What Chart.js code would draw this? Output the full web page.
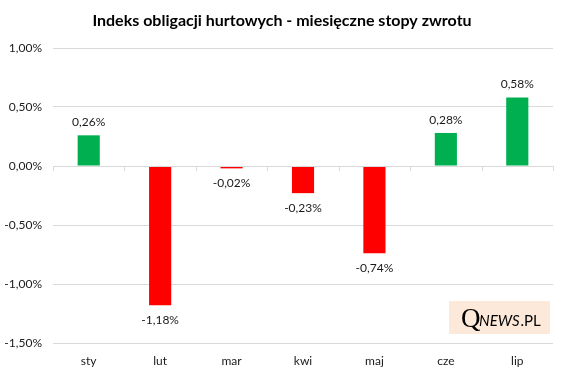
<!DOCTYPE html>
<html><head><meta charset="utf-8">
<script src="https://cdn.jsdelivr.net/npm/chart.js@4/dist/chart.umd.min.js"></script>
<style>html,body{margin:0;padding:0;background:#fff}#wrap{width:567px;height:378px}</style>
</head><body><div id="wrap"><canvas id="c" width="567" height="378"></canvas></div>
<script>
const categories = ['sty','lut','mar','kwi','maj','cze','lip'];
const values = [0.26, -1.18, -0.02, -0.23, -0.74, 0.28, 0.58];
const yTicks = [-1.5, -1.0, -0.5, 0, 0.5, 1.0];
const titleText = 'Indeks obligacji hurtowych - miesięczne stopy zwrotu';
const FONT = 'Lato, "Open Sans", sans-serif';

function fmt(v){ return v.toFixed(2).replace('.', ',') + '%'; }

const extras = {
  id: 'extras',
  afterDatasetsDraw(chart){
    const ctx = chart.ctx, ys = chart.scales.y;
    const y0 = ys.getPixelForValue(0);
    ctx.save();
    // zero axis line with tick marks
    ctx.strokeStyle = '#D9D9D9'; ctx.lineWidth = 1;
    ctx.beginPath();
    ctx.moveTo(chart.chartArea.left, Math.round(y0)+0.5);
    ctx.lineTo(chart.chartArea.right, Math.round(y0)+0.5);
    for(let i=0;i<=categories.length;i++){
      const x = Math.round(chart.chartArea.left + i*(chart.chartArea.right-chart.chartArea.left)/categories.length)+0.5;
      ctx.moveTo(x, Math.round(y0)); ctx.lineTo(x, Math.round(y0)+5);
    }
    ctx.stroke();
    // data labels
    ctx.fillStyle = '#1a1a1a';
    ctx.font = '12px ' + FONT;
    ctx.textAlign = 'center'; ctx.textBaseline = 'middle';
    const meta = chart.getDatasetMeta(0);
    meta.data.forEach((bar,i)=>{
      const v = values[i];
      const y = v >= 0 ? bar.y - 13 : bar.y + 15;
      ctx.fillText(fmt(v), bar.x, y);
    });
    // title
    ctx.fillStyle = '#000';
    ctx.font = 'bold 16px ' + FONT;
    ctx.fillText(titleText, 282, 21);
    // watermark
    ctx.fillStyle = '#FDE9D9';
    ctx.fillRect(449, 301, 101, 33);
    ctx.fillStyle = '#000';
    ctx.textAlign = 'left'; ctx.textBaseline = 'alphabetic';
    ctx.font = '27px "Liberation Serif", serif';
    ctx.fillText('Q', 461, 327);
    ctx.font = 'italic 15px ' + FONT;
    ctx.fillText('NEWS', 479, 326);
    const w = ctx.measureText('NEWS').width;
    ctx.font = '15px ' + FONT;
    ctx.fillText('.PL', 479 + w + 1, 326);
    ctx.restore();
  }
};

new Chart(document.getElementById('c'), {
  type: 'bar',
  data: {
    labels: categories,
    datasets: [{
      data: values,
      backgroundColor: values.map(v => v >= 0 ? '#00B050' : '#FF0000'),
      barPercentage: 0.31,
      categoryPercentage: 1.0,
      borderWidth: 0
    }]
  },
  options: {
    responsive: false,
    animation: false,
    devicePixelRatio: 1,
    layout: { padding: { top: 48, right: 14, left: 0, bottom: 0 } },
    plugins: { legend: { display: false }, tooltip: { enabled: false }, title: { display: false } },
    scales: {
      x: {
        grid: { display: false, drawTicks: false },
        border: { display: false },
        ticks: { color: '#1a1a1a', font: { family: FONT, size: 12 }, padding: 11 },
        afterFit(scale){ scale.height = 35; }
      },
      y: {
        min: -1.5, max: 1.0,
        afterBuildTicks(scale){ scale.ticks = yTicks.map(v => ({ value: v })); },
        grid: { color: '#D9D9D9', drawTicks: false },
        border: { display: false },
        ticks: { color: '#1a1a1a', font: { family: FONT, size: 12 }, padding: 11, callback: v => fmt(v) },
        afterFit(scale){ scale.width = 53; }
      }
    }
  },
  plugins: [extras]
});
</script>
</body></html>
